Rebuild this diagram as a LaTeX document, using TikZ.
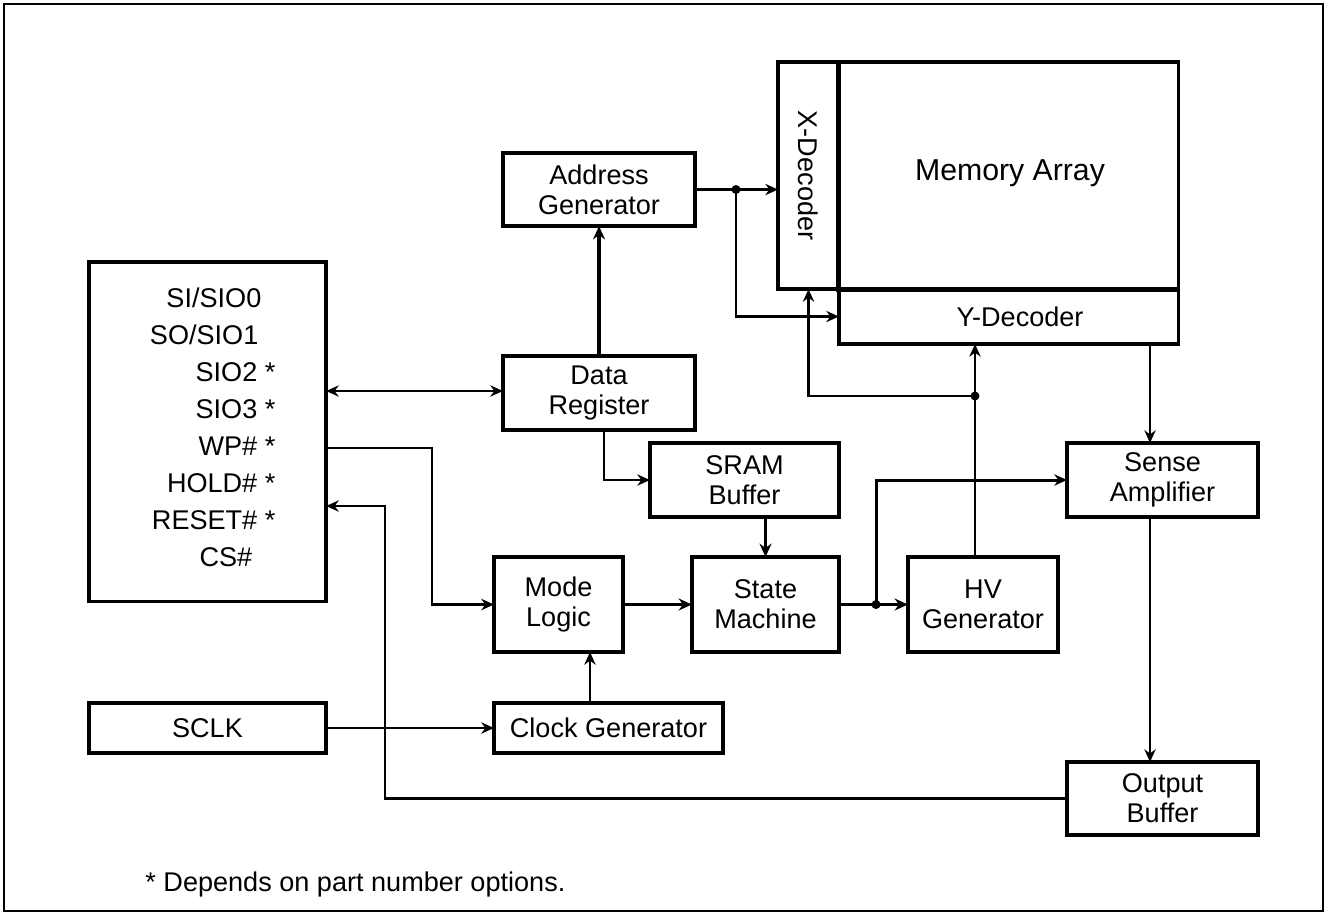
\documentclass[tikz,border=0pt]{standalone}
\usepackage{fontspec}
\setmainfont{Liberation Sans}
\usetikzlibrary{arrows.meta}

\begin{document}
\begin{tikzpicture}[
    x=0.01cm, y=-0.01cm,
    font=\fontsize{7.7}{8.6}\selectfont,
    box/.style={draw, line width=0.9pt, inner sep=0pt, outer sep=0pt, align=center},
    pin/.style={anchor=east, inner sep=0pt},
    arr/.style={-{Stealth[length=3.6pt,width=3.2pt]}, line width=0.7pt},
    darr/.style={{Stealth[length=3.6pt,width=3.2pt]}-{Stealth[length=3.6pt,width=3.2pt]}, line width=0.7pt},
    tarr/.style={-{Stealth[length=3.8pt,width=3.4pt]}, line width=1.1pt},
    dot/.style={fill, circle, inner sep=0pt, minimum size=0.09cm}
]
\useasboundingbox (0,0) rectangle (1328,914);
\draw[line width=0.45pt] (4,4) rectangle (1323,911);

% pins and clock input
\node[box, minimum width=2.37cm, minimum height=3.39cm] (pins) at (207.5,431.5) {};
\node[pin] (p1) at (262,298) {SI/SIO0};
\node[pin] (p2) at (259,335) {SO/SIO1};
\node[pin] (p3) at (258,372) {SIO2\rlap{ *}};
\node[pin] (p4) at (258,409) {SIO3\rlap{ *}};
\node[pin] (p5) at (258,446) {WP\#\rlap{ *}};
\node[pin] (p6) at (258,483) {HOLD\#\rlap{ *}};
\node[pin] (p7) at (258,520) {RESET\#\rlap{ *}};
\node[pin] (p8) at (253,557) {CS\#};
\node[box, minimum width=2.37cm, minimum height=0.5cm] (sclk) at (207.5,728) {SCLK};

% control blocks
\node[box, minimum width=1.92cm, minimum height=0.73cm] (addr)  at (599,189.5) {Address\\Generator};
\node[box, minimum width=1.92cm, minimum height=0.74cm] (dreg)  at (599,393)   {Data\\Register};
\node[box, minimum width=1.89cm, minimum height=0.74cm] (sram)  at (744.5,480) {SRAM\\Buffer};
\node[box, minimum width=1.29cm, minimum height=0.95cm] (mode)  at (558.5,604.5) {Mode\\Logic};
\node[box, minimum width=1.47cm, minimum height=0.95cm] (state) at (765.5,604.5) {State\\Machine};
\node[box, minimum width=1.50cm, minimum height=0.95cm] (hv)    at (983,604.5) {HV\\Generator};
\node[box, minimum width=2.29cm, minimum height=0.5cm]  (clk)   at (608.5,728) {Clock Generator};

% memory core
\node[box, minimum width=0.61cm, minimum height=2.27cm] (xdec) at (808.5,175.5) {};
\node[rotate=-90] (xdeclbl) at (xdec.center) {X-Decoder};
\node[box, minimum width=3.39cm, minimum height=2.27cm] (mem) at (1008.5,175.5) {};
\node[font=\fontsize{8.6}{10}\selectfont] (memlbl) at (1010,173) {Memory Array};
\draw[line width=1.4pt] (mem.north west) -- (mem.south west) -- (mem.south east);
\node[box, minimum width=3.39cm, minimum height=0.55cm] (ydec) at (1008.5,316.5) {};
\node (ydeclbl) at (1020,316.5) {Y-Decoder};
\node[box, minimum width=1.91cm, minimum height=0.74cm] (sense) at (1162.5,480) {Sense\\Amplifier};
\node[box, minimum width=1.91cm, minimum height=0.73cm] (obuf)  at (1162.5,798.5) {Output\\Buffer};

% junctions
\coordinate (j1) at (736,189.5);
\coordinate (j2) at (876,604.5);
\coordinate (j3) at (975,396);
\coordinate (wp) at (432,448);
\coordinate (rst) at (385,506);
\node[dot] at (j1) {};
\node[dot] at (j2) {};
\node[dot] at (j3) {};

% connections
\draw[darr] (pins.east |- 0,391) -- (dreg.west |- 0,391);
\draw[tarr] (dreg.north) -- (addr.south);
\draw[arr] (addr.east) -- (addr.east -| xdec.west);
\draw[arr] (j1) |- (ydec.west);
\draw[arr] ([xshift=0.05cm]dreg.south) |- (sram.west);
\draw[tarr] (state.north |- sram.south) -- (state.north);
\draw[arr] (wp -| pins.east) -- (wp) |- (mode.west);
\draw[tarr] (mode.east) -- (state.west);
\draw[tarr] (state.east) -- (hv.west);
\draw[arr, line width=0.85pt] (j2) |- (sense.west);
\draw[arr] (j3 |- hv.north) -- (j3 |- ydec.south);
\draw[arr] (j3) -| (xdec.south);
\draw[arr] ([xshift=-0.125cm]sense.north |- ydec.south) -- ([xshift=-0.125cm]sense.north);
\draw[arr] ([xshift=-0.125cm]sense.south) -- ([xshift=-0.125cm]obuf.north);
\draw[arr] (obuf.west) -| (rst) -- (rst -| pins.east);
\draw[arr] (sclk.east) -- (clk.west);
\draw[arr] ([xshift=-0.185cm]clk.north) -- ([xshift=-0.185cm]clk.north |- mode.south);

% footnote
\node[anchor=west] (note) at (133,884) {* Depends on part number options.};
\end{tikzpicture}
\end{document}
